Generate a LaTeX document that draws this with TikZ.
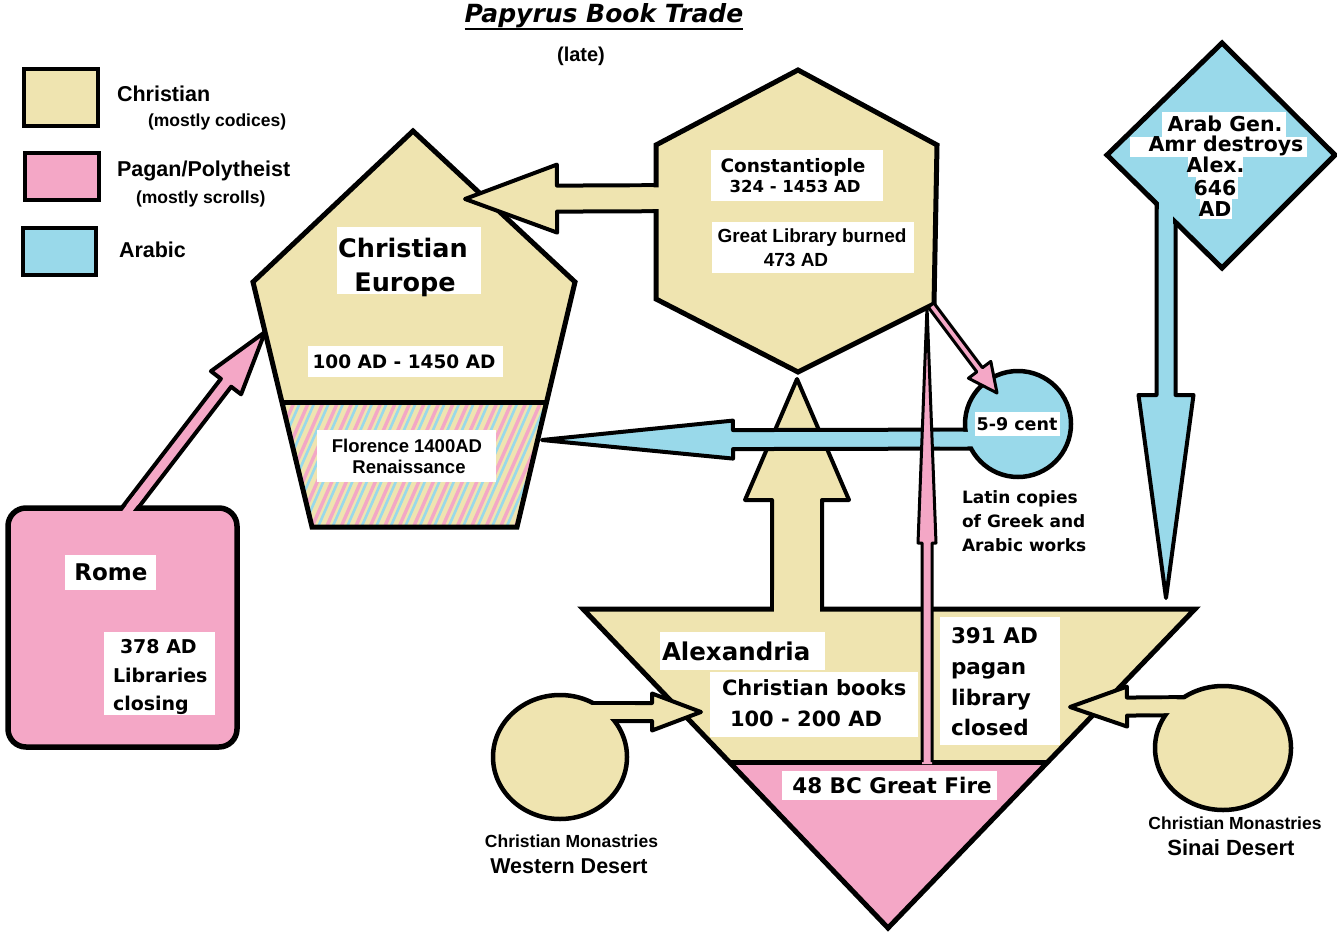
\documentclass[tikz,border=0pt]{standalone}
\usepackage{fontspec}
\setmainfont{Liberation Sans}
\newfontfamily\dvs{DejaVu Sans}[BoldFont={DejaVu Sans Bold},ItalicFont={DejaVu Sans Oblique},BoldItalicFont={DejaVu Sans Bold Oblique}]
\usetikzlibrary{calc}
\definecolor{beige}{HTML}{EFE4B0}
\definecolor{rose}{HTML}{F4A7C6}
\definecolor{sky}{HTML}{99D9EA}
\newcommand\fsz[1]{\fontsize{#1}{#1}\selectfont}
% block arrow: from, to, shaft half width, head half width, head length, style
\newcommand\barrow[6]{%
  \coordinate (bah) at ($(#2)!#5!(#1)$);
  \path[#6] ($(#1)!#3!90:(#2)$) -- ($(bah)!#3!90:(#2)$) -- ($(bah)!#4!90:(#2)$) -- (#2)
     -- ($(bah)!#4!-90:(#2)$) -- ($(bah)!#3!-90:(#2)$) -- ($(#1)!#3!-90:(#2)$) -- cycle;
}
% patch that merges a shaft into its shape: from, to, half width, length, colour
\newcommand\bpatch[5]{%
  \coordinate (bpe) at ($(#1)!#4!(#2)$);
  \fill[#5] ($(#1)!#3!90:(#2)$) -- ($(bpe)!#3!90:(#2)$) -- ($(bpe)!#3!-90:(#2)$) -- ($(#1)!#3!-90:(#2)$) -- cycle;
}
\tikzset{
  shp/.style={draw=black,line width=5pt,line join=miter,miter limit=3},
  arr/.style={draw=black,line width=4pt,line join=round},
  wbox/.style={fill=white,inner sep=0pt,outer sep=0pt},
  lbl/.style={inner sep=0pt,outer sep=0pt,anchor=base},
  lblw/.style={inner sep=0pt,outer sep=0pt,anchor=base west},
  dv/.style={font=\dvs\bfseries\fsz{#1}},
  lb/.style={font=\bfseries\fsz{#1}},
  legbox/.style={draw=black,line width=4pt,inner sep=0pt},
}
\begin{document}
\begin{tikzpicture}[x=1pt,y=-1pt]
\useasboundingbox (0,0) rectangle (1337,936);
\fill[white] (0,0) rectangle (1337,936);

% ---------- title ----------
\node[lbl,font=\dvs\bfseries\itshape\fsz{25}] (ttl) at (604,23) {Papyrus Book Trade};
\draw[line width=2.5pt] ([yshift=-6pt]ttl.base west) -- ([yshift=-6pt]ttl.base east);
\node[lbl,lb=20] (late) at (581,62) {(late)};

% ---------- legend ----------
\node[legbox,fill=beige,minimum width=74pt,minimum height=57pt] (lg1) at (61,97.5) {};
\node[legbox,fill=rose,minimum width=74pt,minimum height=47pt] (lg2) at (62,176.5) {};
\node[legbox,fill=sky,minimum width=73pt,minimum height=47pt] (lg3) at (59.5,251.5) {};
\node[lblw,lb=21.5] (l1) at (117,102) {Christian};
\node[lblw,lb=17.5] (l1s) at (148,127) {(mostly codices)};
\node[lblw,lb=21.5] (l2) at (117,176) {Pagan/Polytheist};
\node[lblw,lb=17.5] (l2s) at (136,204) {(mostly scrolls)};
\node[lblw,lb=21.5] (l3) at (119,257) {Arabic};

% ---------- pentagon: Christian Europe ----------
\coordinate (pT) at (413,131);
\coordinate (pR) at (575,282);
\coordinate (pBR) at (517,527);
\coordinate (pBL) at (312,527);
\coordinate (pL) at (253,282);
\coordinate (pDL) at (282,402);
\coordinate (pDR) at (546.5,402);
\fill[beige] (pT)--(pR)--(pBR)--(pBL)--(pL)--cycle;
\begin{scope}
  \clip (pDL)--(pDR)--(pBR)--(pBL)--cycle;
  \foreach \i in {0,...,26} {
    \draw[rose,line width=3.4pt] ({196+14.5*\i},560) -- ++(75,-171);
    \draw[sky,line width=2.6pt] ({202+14.5*\i},560) -- ++(75,-171);
  }
\end{scope}
\draw[shp] (pDL)--(pDR);
\draw[shp] (pT)--(pR)--(pBR)--(pBL)--(pL)--cycle;

% ---------- Rome ----------
\coordinate (ra1) at (116,526);
\coordinate (ra2) at (265,332);
\barrow{ra1}{ra2}{6.5pt}{19pt}{64pt}{arr,fill=rose}
\node[shp,line width=5.5pt,fill=rose,rounded corners=18pt,minimum width=229pt,minimum height=239pt,inner sep=0pt] (rome) at (122.5,627.5) {};
\bpatch{ra1}{ra2}{4.1pt}{40pt}{rose}

% ---------- Constantinople hexagon + arrow to Europe ----------
\coordinate (ha1) at (700,198);
\coordinate (ha2) at (465,199);
\barrow{ha1}{ha2}{13pt}{34pt}{92pt}{arr,fill=beige}
\coordinate (hT) at (798,70);
\coordinate (hUR) at (937,145);
\coordinate (hLR) at (934,304);
\coordinate (hB) at (798,372);
\coordinate (hLL) at (656,299);
\coordinate (hUL) at (656,145);
\draw[shp,fill=beige] (hT)--(hUR)--(hLR)--(hB)--(hLL)--(hUL)--cycle;
\bpatch{ha1}{ha2}{10.8pt}{70pt}{beige}

% ---------- Alexandria ----------
\coordinate (bu1) at (797,650);
\coordinate (bu2) at (797,379);
\barrow{bu1}{bu2}{25pt}{52pt}{121pt}{arr,fill=beige}
\coordinate (aL) at (583,609);
\coordinate (aR) at (1195,609);
\coordinate (aB) at (888,928);
\coordinate (aBL) at (729,762);
\coordinate (aBR) at (1048,762);
\fill[beige] (aL)--(aR)--(aB)--cycle;
\fill[rose] (aBL)--(aBR)--(aB)--cycle;
\draw[shp] (aBL)--(aBR);
\draw[shp] (aL)--(aR)--(aB)--cycle;
\bpatch{bu1}{bu2}{22.8pt}{60pt}{beige}

% ---------- 5-9 cent circle + arrow to Florence ----------
\coordinate (ca1) at (1000,439);
\coordinate (ca2) at (542,440);
\barrow{ca1}{ca2}{9.5pt}{19pt}{191pt}{arr,fill=sky}
\coordinate (cc) at (1018,424);
\draw[black,line width=4.5pt,fill=sky] (cc) circle[radius=53pt];
\bpatch{ca1}{ca2}{7.3pt}{60pt}{sky}

% ---------- monasteries ----------
\coordinate (wa1) at (585,712);
\coordinate (wa2) at (701,712);
\barrow{wa1}{wa2}{9pt}{18.5pt}{49pt}{arr,fill=beige}
\coordinate (wc) at (560,757);
\draw[black,line width=4.5pt,fill=beige] (wc) ellipse[x radius=67pt,y radius=62pt];
\bpatch{wa1}{wa2}{6.8pt}{50pt}{beige}

\coordinate (sa1) at (1200,706);
\coordinate (sa2) at (1070,707);
\barrow{sa1}{sa2}{9pt}{20pt}{57pt}{arr,fill=beige}
\coordinate (sc) at (1223,748);
\draw[black,line width=4.5pt,fill=beige] (sc) ellipse[x radius=68pt,y radius=62pt];
\bpatch{sa1}{sa2}{6.8pt}{50pt}{beige}

% ---------- pink thin arrows ----------
\coordinate (pv0) at (927,764);
\coordinate (pvT) at (927,307);
\fill[rose] (922,764)--(922,543)--(918,543)--(pvT)--(936,543)--(932,543)--(932,764)--cycle;
\draw[black,line width=3pt,line join=round] (922,762)--(922,543)--(918,543)--(pvT)--(936,543)--(932,543)--(932,762);
\coordinate (pd1) at (931,305);
\coordinate (pd2) at (997,393);
\barrow{pd1}{pd2}{3.5pt}{14pt}{29pt}{draw=black,line width=3pt,line join=round,fill=rose}

% ---------- Arab diamond + arrow ----------
\coordinate (bd1) at (1166,190);
\coordinate (bd2) at (1166,598);
\barrow{bd1}{bd2}{9.5pt}{27.5pt}{203pt}{arr,fill=sky}
\draw[shp,fill=sky] (1222,43)--(1335,155)--(1222,268)--(1107,155)--cycle;
\bpatch{bd1}{bd2}{7.3pt}{60pt}{sky}

% ---------- white label boxes and texts ----------
% Europe
\node[wbox,minimum width=144pt,minimum height=67pt] (euB) at (409,260.5) {};
\node[lbl,dv=25.5] (eu1) at (403,257) {Christian};
\node[lbl,dv=25.5] (eu2) at (405,291) {Europe};
\node[wbox,minimum width=195pt,minimum height=31pt] (eudB) at (405.5,361.5) {};
\node[lbl,dv=18.5] (eud) at (404,368) {100 AD - 1450 AD};
\node[wbox,minimum width=179pt,minimum height=52pt] (flB) at (406.5,456) {};
\node[lbl,lb=18.5] (fl1) at (407,452) {Florence 1400AD};
\node[lbl,lb=18.5] (fl2) at (409,473) {Renaissance};

% Constantinople
\node[wbox,minimum width=172pt,minimum height=51pt] (coB) at (797,175.5) {};
\node[lbl,dv=18.5] (co1) at (793,172) {Constantiople};
\node[lbl,dv=16.5] (co2) at (795,193) {324 - 1453 AD};
\node[wbox,minimum width=202pt,minimum height=51pt] (glB) at (813,247.5) {};
\node[lbl,lb=19] (gl1) at (812,242) {Great Library burned};
\node[lbl,lb=19] (gl2) at (796,266) {473 AD};

% Arab general
\node[wbox,minimum width=124pt,minimum height=25pt] (ar1B) at (1224,124.5) {};
\node[wbox,minimum width=177pt,minimum height=20pt] (ar2B) at (1218.5,147) {};
\node[wbox,minimum width=55pt,minimum height=20pt] (ar3B) at (1215.5,167) {};
\node[wbox,minimum width=42pt,minimum height=22pt] (ar4B) at (1217,188) {};
\node[wbox,minimum width=32pt,minimum height=20pt] (ar5B) at (1216,209) {};
\node[lbl,dv=20.5] (ar1) at (1225,132) {Arab Gen.};
\node[lbl,dv=20.5] (ar2) at (1226,152) {Amr destroys};
\node[lbl,dv=20.5] (ar3) at (1215.5,173) {Alex.};
\node[lbl,dv=20.5] (ar4) at (1215,196) {646};
\node[lbl,dv=20.5] (ar5) at (1215,216) {AD};

% 5-9 cent
\node[wbox,minimum width=85pt,minimum height=24pt] (cB) at (1017.5,424) {};
\node[lbl,dv=17.5] (ct) at (1017,430) {5-9 cent};
\node[lblw,dv=17] (lt1) at (962,503) {Latin copies};
\node[lblw,dv=17] (lt2) at (962,527) {of Greek and};
\node[lblw,dv=17] (lt3) at (962,551) {Arabic works};

% Alexandria
\node[wbox,minimum width=165pt,minimum height=38pt] (axB) at (742.5,651) {};
\node[lblw,dv=24.5] (ax) at (662,660) {Alexandria};
\node[wbox,minimum width=208pt,minimum height=65pt] (cbB) at (814,704.5) {};
\node[lblw,dv=21] (cb1) at (722,695) {Christian books};
\node[lblw,dv=21] (cb2) at (730,726) {100 - 200 AD};
\node[wbox,minimum width=120pt,minimum height=128pt] (pgB) at (1000,681) {};
\node[lblw,dv=21.5] (pg1) at (951,643) {391 AD};
\node[lblw,dv=21.5] (pg2) at (951,674) {pagan};
\node[lblw,dv=21.5] (pg3) at (951,705) {library};
\node[lblw,dv=21.5] (pg4) at (951,735) {closed};
\node[wbox,minimum width=215pt,minimum height=29pt] (gfB) at (889.5,785.5) {};
\node[lbl,dv=21.5] (gf) at (892,793) {48 BC Great Fire};

% Rome
\node[wbox,minimum width=91pt,minimum height=35pt] (rmB) at (110.5,572.5) {};
\node[lbl,dv=23] (rm) at (111,580) {Rome};
\node[wbox,minimum width=111pt,minimum height=83pt] (rlB) at (159.5,673.5) {};
\node[lblw,dv=19] (rl1) at (120,653) {378 AD};
\node[lblw,dv=19] (rl2) at (113,682) {Libraries};
\node[lblw,dv=19] (rl3) at (113,710) {closing};

% monastery captions
\node[lbl,lb=17.5] (wm1) at (571.5,847) {Christian Monastries};
\node[lbl,lb=21.5] (wm2) at (569,873) {Western Desert};
\node[lbl,lb=17.5] (sm1) at (1235,829) {Christian Monastries};
\node[lbl,lb=22] (sm2) at (1231,855) {Sinai Desert};
\end{tikzpicture}
\end{document}
